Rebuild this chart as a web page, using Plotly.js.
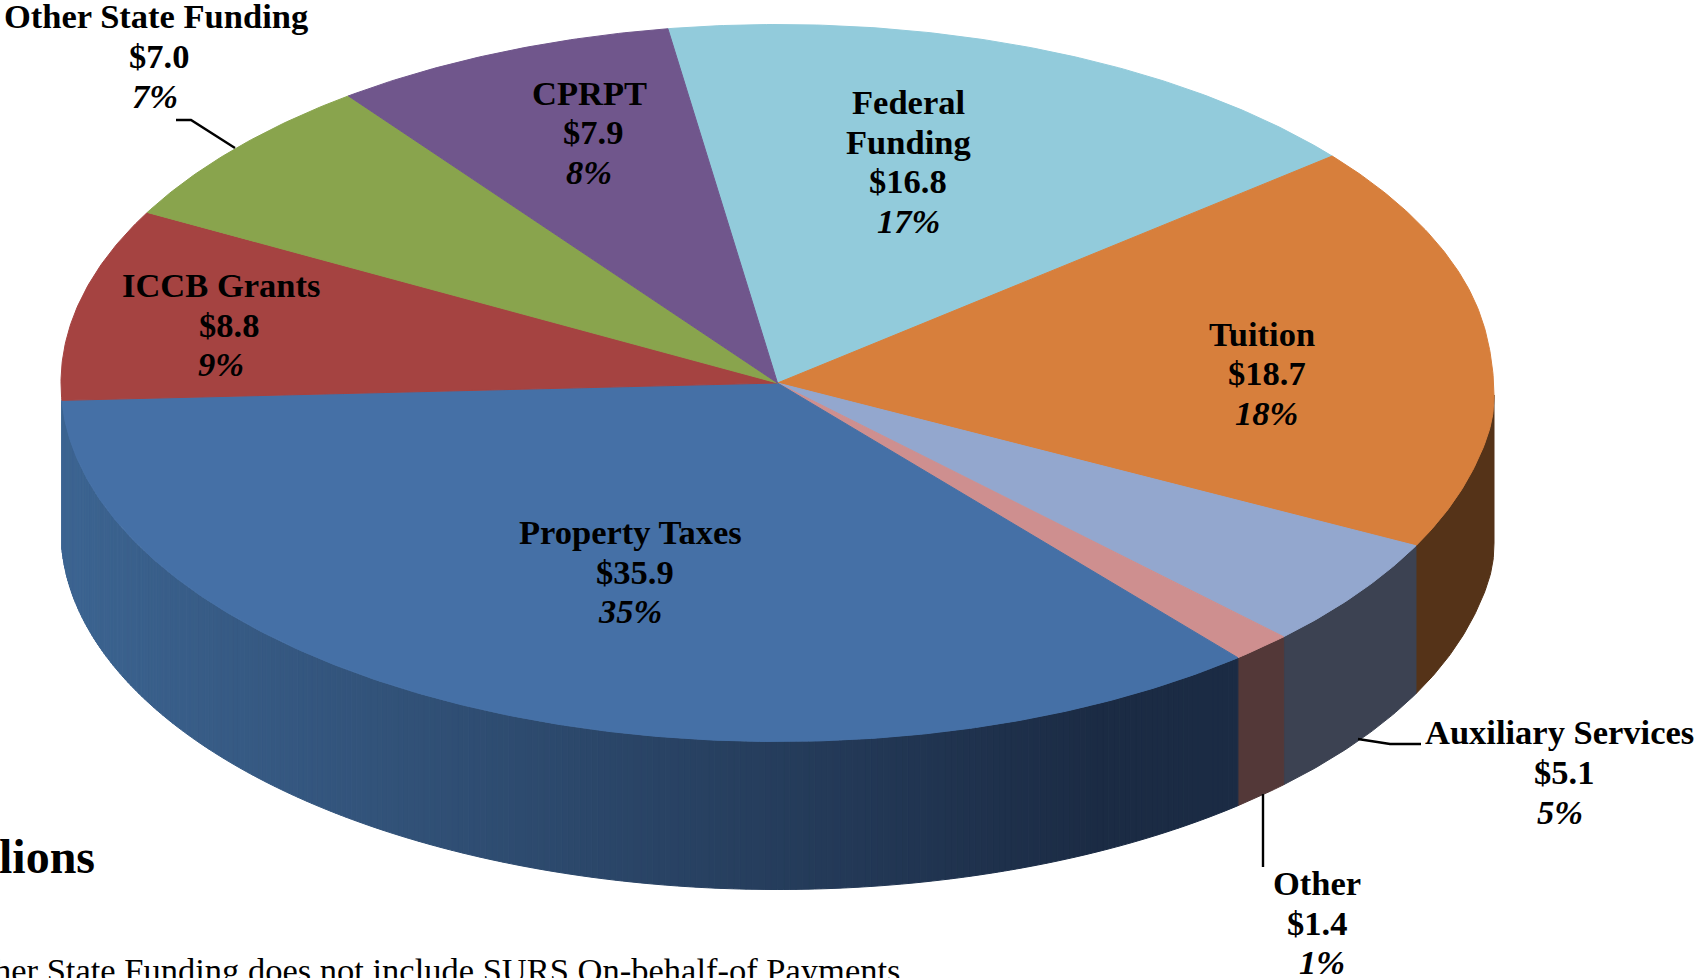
<!DOCTYPE html>
<html>
<head>
<meta charset="utf-8">
<script src="https://cdn.plot.ly/plotly-3.0.1.min.js"></script>
<style>html,body{margin:0;padding:0;background:#fff;overflow:hidden}</style>
</head>
<body>
<div id="chart" style="width:1695px;height:978px"></div>
<script>
// Data, in pie order (clockwise)
const categories = ["Federal Funding","Tuition","Auxiliary Services","Other","Property Taxes","ICCB Grants","Other State Funding","CPRPT"];
const amounts = [16.8,18.7,5.1,1.4,35.9,8.8,7.0,7.9];
const percents = [17,18,5,1,35,9,7,8];

// Style
const topColors = ["#92CBDB","#D77F3C","#93A7CE","#CE8F8F","#4570A6","#A54341","#89A44D","#70568C"];
const wallColors = {"Tuition":"#553318","Auxiliary Services":"#3C4252","Other":"#533838"};

// Pie geometry in page pixels
const W=1695,H=978;
const cx=777.5, cy=383, rx=716.5, ry=358.5, depth=148, startDeg=-8.8;
const px=(d)=>cx+rx*Math.sin(d*Math.PI/180);
const py=(d)=>{
  const t=(d-90)/8;
  return cy-ry*Math.cos(d*Math.PI/180)+12*Math.exp(-t*t); // flattened shoulder at the right extreme
};
const total=amounts.reduce((a,b)=>a+b,0);

const traces=[];
function poly(xs,ys,color){
  traces.push({type:"scatter",mode:"lines",x:xs,y:ys,fill:"toself",fillcolor:color,
    line:{color:color,width:1},hoverinfo:"skip",showlegend:false});
}
function arcDegs(a,b){const n=Math.max(2,Math.ceil((b-a)*2));const r=[];for(let i=0;i<=n;i++)r.push(a+(b-a)*i/n);return r;}
function wall(a,b,color){
  const d=arcDegs(a,b);
  const xs=d.map(px).concat(d.slice().reverse().map(px));
  const ys=d.map(py).concat(d.slice().reverse().map(v=>py(v)+depth));
  xs.push(xs[0]);ys.push(ys[0]);
  poly(xs,ys,color);
}
function propertyColor(x){
  const t=Math.min(1,Math.max(0,(x-61)/(1100-61)));
  const c0=[60,100,145],c1=[27,43,68];
  return "rgb("+c0.map((v,i)=>Math.round(v+(c1[i]-v)*t)).join(",")+")";
}
// Walls (only the front rim is visible)
let ang=startDeg;
const spans=amounts.map(v=>{const s=[ang,ang+v/total*360];ang=s[1];return s;});
spans.forEach((s,i)=>{
  const c=categories[i];
  if(c==="Property Taxes"){
    for(let d=s[0];d<s[1];d+=0.5){ const e=Math.min(s[1],d+0.5); wall(d,e,propertyColor(px((d+e)/2))); }
  } else if(wallColors[c]){
    wall(Math.max(s[0],90),s[1],wallColors[c]);
  }
});
// Top slices
spans.forEach((s,i)=>{
  const d=arcDegs(s[0],s[1]);
  poly([cx].concat(d.map(px),[cx]),[cy].concat(d.map(py),[cy]),topColors[i]);
});
// Leader lines
const leaders=[
  {x:[176,191,235],y:[120,120,148]},
  {x:[1358,1390,1421],y:[739,744,744]},
  {x:[1263,1263],y:[794,867]}
];
leaders.forEach(l=>traces.push({type:"scatter",mode:"lines",x:l.x,y:l.y,line:{color:"#000",width:2.4},hoverinfo:"skip",showlegend:false}));

// Labels: each line placed separately (positions measured in the 1568-wide view)
const k=W/1568;
const fmt=(v)=>"$"+v.toFixed(1);
const labelLines={
  "Federal Funding":[["Federal",840,94],["Funding",840,131]],
  "Tuition":[["Tuition",1167,309]],
  "Auxiliary Services":[["Auxiliary Services",1443,677]],
  "Other":[["Other",1218,817]],
  "Property Taxes":[["Property Taxes",583,492]],
  "ICCB Grants":[["ICCB Grants",204,264]],
  "Other State Funding":[["Other State Funding",144,15]],
  "CPRPT":[["CPRPT",545,86]]
};
const valuePos={
  "Federal Funding":[[840,167],[840,204]],
  "Tuition":[[1172,345],[1172,382]],
  "Auxiliary Services":[[1447,714],[1443,751]],
  "Other":[[1218,854],[1223,890]],
  "Property Taxes":[[587,529],[583,565]],
  "ICCB Grants":[[212,301],[204,337]],
  "Other State Funding":[[147,52],[143,89]],
  "CPRPT":[[549,122],[545,159]]
};
const annotations=[];
const FS=34.5;
function note(text,x,y,size,xanchor){
  annotations.push({text:text,x:x,y:y,xref:"x",yref:"y",showarrow:false,xanchor:xanchor||"center",yanchor:"middle",
    font:{family:"Liberation Serif",size:size||FS,color:"#000"},borderpad:0});
}
categories.forEach((c,i)=>{
  labelLines[c].forEach(l=>note("<b>"+l[0]+"</b>",l[1]*k,l[2]*k));
  const p=valuePos[c];
  note("<b>"+fmt(amounts[i])+"</b>",p[0][0]*k,p[0][1]*k);
  note("<b><i>"+percents[i]+"%</i></b>",p[1][0]*k,p[1][1]*k);
});
note("<b>lions</b>",96,856,48,"right");
note("her State Funding does not include SURS On-behalf-of Payments",901,970,34.5,"right");

const layout={
  width:W,height:H,margin:{l:0,r:0,t:0,b:0},paper_bgcolor:"#fff",plot_bgcolor:"#fff",showlegend:false,
  xaxis:{range:[0,W],visible:false,fixedrange:true},
  yaxis:{range:[H,0],visible:false,fixedrange:true},
  annotations:annotations,hovermode:false
};
Plotly.newPlot("chart",traces,layout,{displayModeBar:false,staticPlot:true});
</script>
</body>
</html>
